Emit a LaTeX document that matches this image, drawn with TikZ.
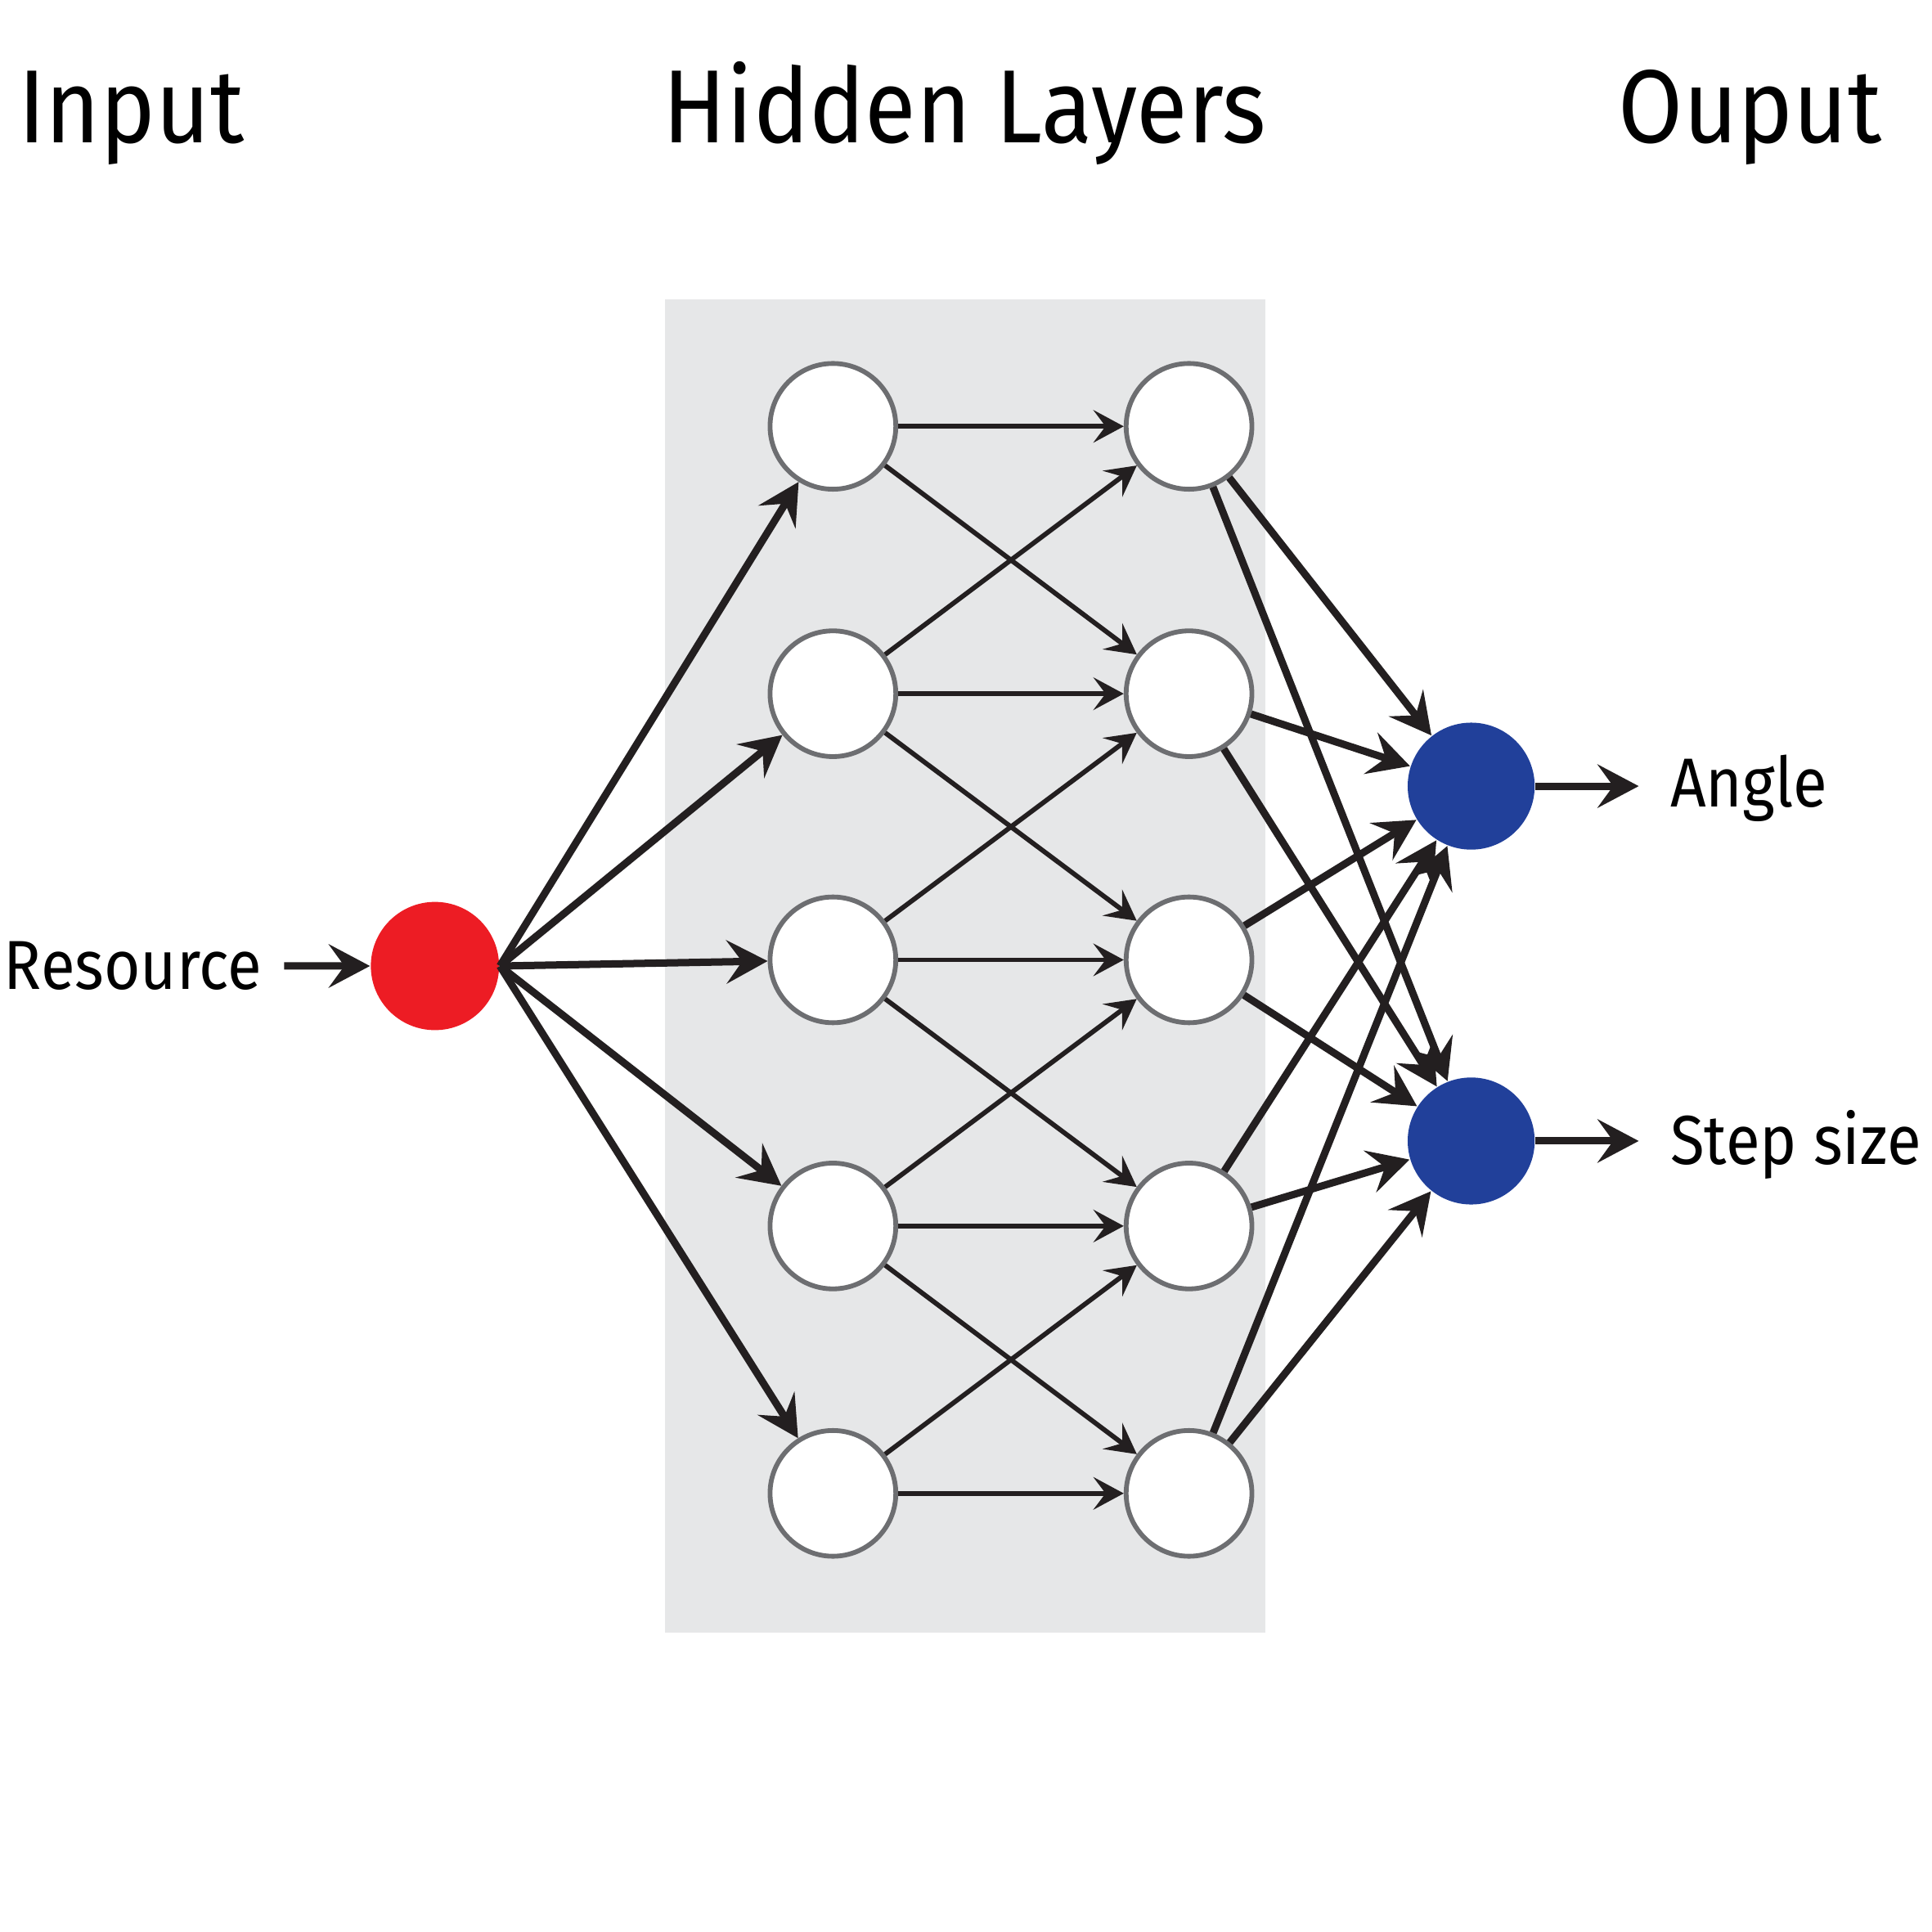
\documentclass[tikz,border=0pt]{standalone}
\usepackage{fontspec}
\setmainfont{Fira Sans}
\newfontfamily\narrowfont[FakeStretch=0.9]{Fira Sans}
\newfontfamily\labelfont[FakeStretch=0.9]{Fira Sans}
\usepackage{tikz}
\usetikzlibrary{arrows.meta}

\definecolor{panelgray}{HTML}{E6E7E8}
\definecolor{ringgray}{HTML}{6D6E71}
\definecolor{inred}{HTML}{ED1C24}
\definecolor{outblue}{HTML}{21409A}
\definecolor{wire}{HTML}{231F20}

\begin{document}
\begin{tikzpicture}[
  x=0.01cm, y=-0.01cm,
  hidden/.style={circle, draw=ringgray, line width=1.1pt, fill=white,
    minimum size=1.02cm, inner sep=0pt},
  inputnode/.style={circle, fill=inred, minimum size=1.04cm, inner sep=0pt},
  outnode/.style={circle, fill=outblue, minimum size=1.03cm, inner sep=0pt},
  title/.style={font=\narrowfont\fontsize{24}{28}\selectfont, inner sep=0pt},
  iolabel/.style={font=\labelfont\fontsize{16}{20}\selectfont, inner sep=0pt},
  link/.style={draw=wire, line width=1.1pt,
    -{Stealth[length=7pt, width=7.5pt, inset=2.8pt]}},
  boldlink/.style={draw=wire, line width=1.7pt,
    -{Stealth[length=9.5pt, width=10pt, inset=3.6pt]}},
]
  \useasboundingbox (0,0) rectangle (1568,1568);

  % Titles
  \node[title, anchor=base west] (tin) at (14,116) {Input};
  \node[title, anchor=base] (thid) at (783,116) {Hidden Layers};
  \node[title, anchor=base west] (tout) at (1313,116) {Ouput};

  % Hidden panel
  \fill[panelgray] (540,243) rectangle (1027,1325);

  % Neurons
  \node[inputnode] (in) at (353,784) {};
  \foreach \y [count=\i] in {346,563,779,995,1212} {
    \node[hidden] (a\i) at (676,\y) {};
    \node[hidden] (b\i) at (965,\y) {};
  }
  \node[outnode] (o1) at (1194,638) {};
  \node[outnode] (o2) at (1194,926) {};

  % Input side
  \node[iolabel, anchor=base east] (res) at (213,803) {Resource};
  \draw[boldlink, shorten <=5pt] (res.east) -- (in);
  \foreach \i in {1,...,5} \draw[boldlink] (in.east) -- (a\i);

  % Between hidden layers
  \foreach \i in {1,...,5} \draw[link] (a\i) -- (b\i);
  \foreach \i/\j in {1/2, 2/1, 2/3, 3/2, 3/4, 4/3, 4/5, 5/4}
    \draw[link] (a\i) -- (b\j);

  % Hidden to output
  \foreach \i in {1,...,5} {
    \draw[boldlink] (b\i) -- (o1);
    \draw[boldlink] (b\i) -- (o2);
  }

  % Output side
  \coordinate (angleend) at (1330,638);
  \coordinate (stepend) at (1330,926);
  \draw[boldlink] (o1) -- (angleend);
  \draw[boldlink] (o2) -- (stepend);
  \node[iolabel, anchor=base west] (tangle) at (1355,655) {Angle};
  \node[iolabel, anchor=base west] (tstep) at (1355,945) {Step size};
\end{tikzpicture}
\end{document}
